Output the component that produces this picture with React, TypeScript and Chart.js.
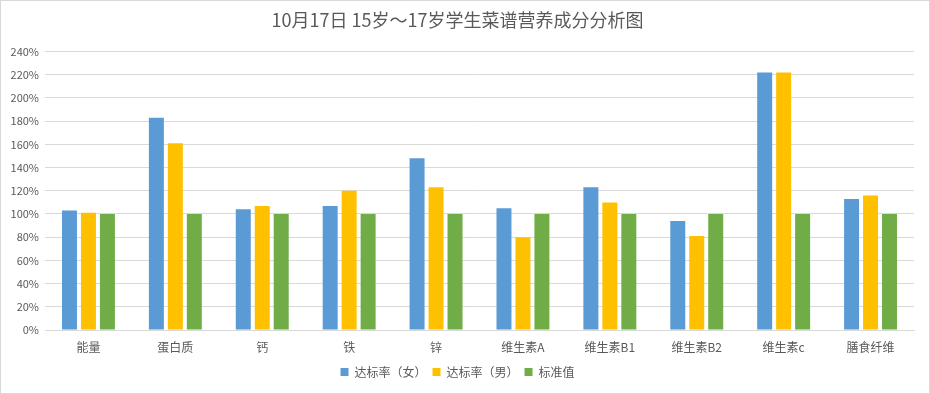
import React, { useEffect, useRef } from "react";
import { Chart, registerables } from "chart.js";

Chart.register(...registerables);

const titleText = "10月17日 15岁～17岁学生菜谱营养成分分析图";
const categories = ["能量", "蛋白质", "钙", "铁", "锌", "维生素A", "维生素B1", "维生素B2", "维生素c", "膳食纤维"];
const femaleRate = [103, 183, 104, 107, 148, 105, 123, 94, 222, 113];
const maleRate = [101, 161, 107, 120, 123, 80, 110, 81, 222, 116];
const standard = [100, 100, 100, 100, 100, 100, 100, 100, 100, 100];
const seriesNames = ["达标率（女）", "达标率（男）", "标准值"];

const FONT = "'Noto Sans CJK SC', 'Noto Sans', sans-serif";
const TEXT = "#595959";

export default function App() {
  const ref = useRef<HTMLCanvasElement>(null);
  useEffect(() => {
    document.body.style.margin = "0";
    const ctx = ref.current!;
    const chart = new Chart(ctx, {
      type: "bar",
      data: {
        labels: categories,
        datasets: [
          { label: seriesNames[0], data: femaleRate, backgroundColor: "#5B9BD5" },
          { label: seriesNames[1], data: maleRate, backgroundColor: "#FFC000" },
          { label: seriesNames[2], data: standard, backgroundColor: "#70AD47" },
        ],
      },
      options: {
        animation: false,
        responsive: false,
        maintainAspectRatio: false,
        layout: { padding: { left: 0, right: 15, top: 0, bottom: 5 } },
        datasets: { bar: { categoryPercentage: 0.655, barPercentage: 0.79 } },
        plugins: {
          title: {
            display: true,
            text: titleText,
            color: TEXT,
            font: { family: FONT, size: 18, weight: "normal" },
            padding: { top: 8, bottom: 21 },
          },
          legend: {
            position: "bottom",
            labels: {
              color: TEXT,
              font: { family: FONT, size: 12 },
              boxWidth: 8,
              boxHeight: 8,
              padding: 6,
            },
          },
          tooltip: { enabled: false },
        },
        scales: {
          x: {
            grid: { display: false, drawTicks: false },
            border: { color: "#d9d9d9" },
            ticks: { color: TEXT, font: { family: FONT, size: 12 }, padding: 10 },
            afterFit: (s: any) => { s.height = 30; },
          },
          y: {
            min: 0,
            max: 240,
            grid: { color: "#d9d9d9", drawTicks: false },
            border: { display: false },
            ticks: {
              stepSize: 20,
              color: TEXT,
              font: { family: FONT, size: 11 },
              padding: 6,
              callback: (v: any) => v + "%",
            },
            afterFit: (s: any) => { s.width = 44; },
          },
        },
      },
    });
    return () => chart.destroy();
  }, []);
  return (
    <div style={{ position: "absolute", left: 0, top: 0, width: 930, height: 394, boxSizing: "border-box", border: "1px solid #d9d9d9", background: "#fff" }}>
      <canvas ref={ref} width={928} height={392} style={{ display: "block" }} />
    </div>
  );
}
